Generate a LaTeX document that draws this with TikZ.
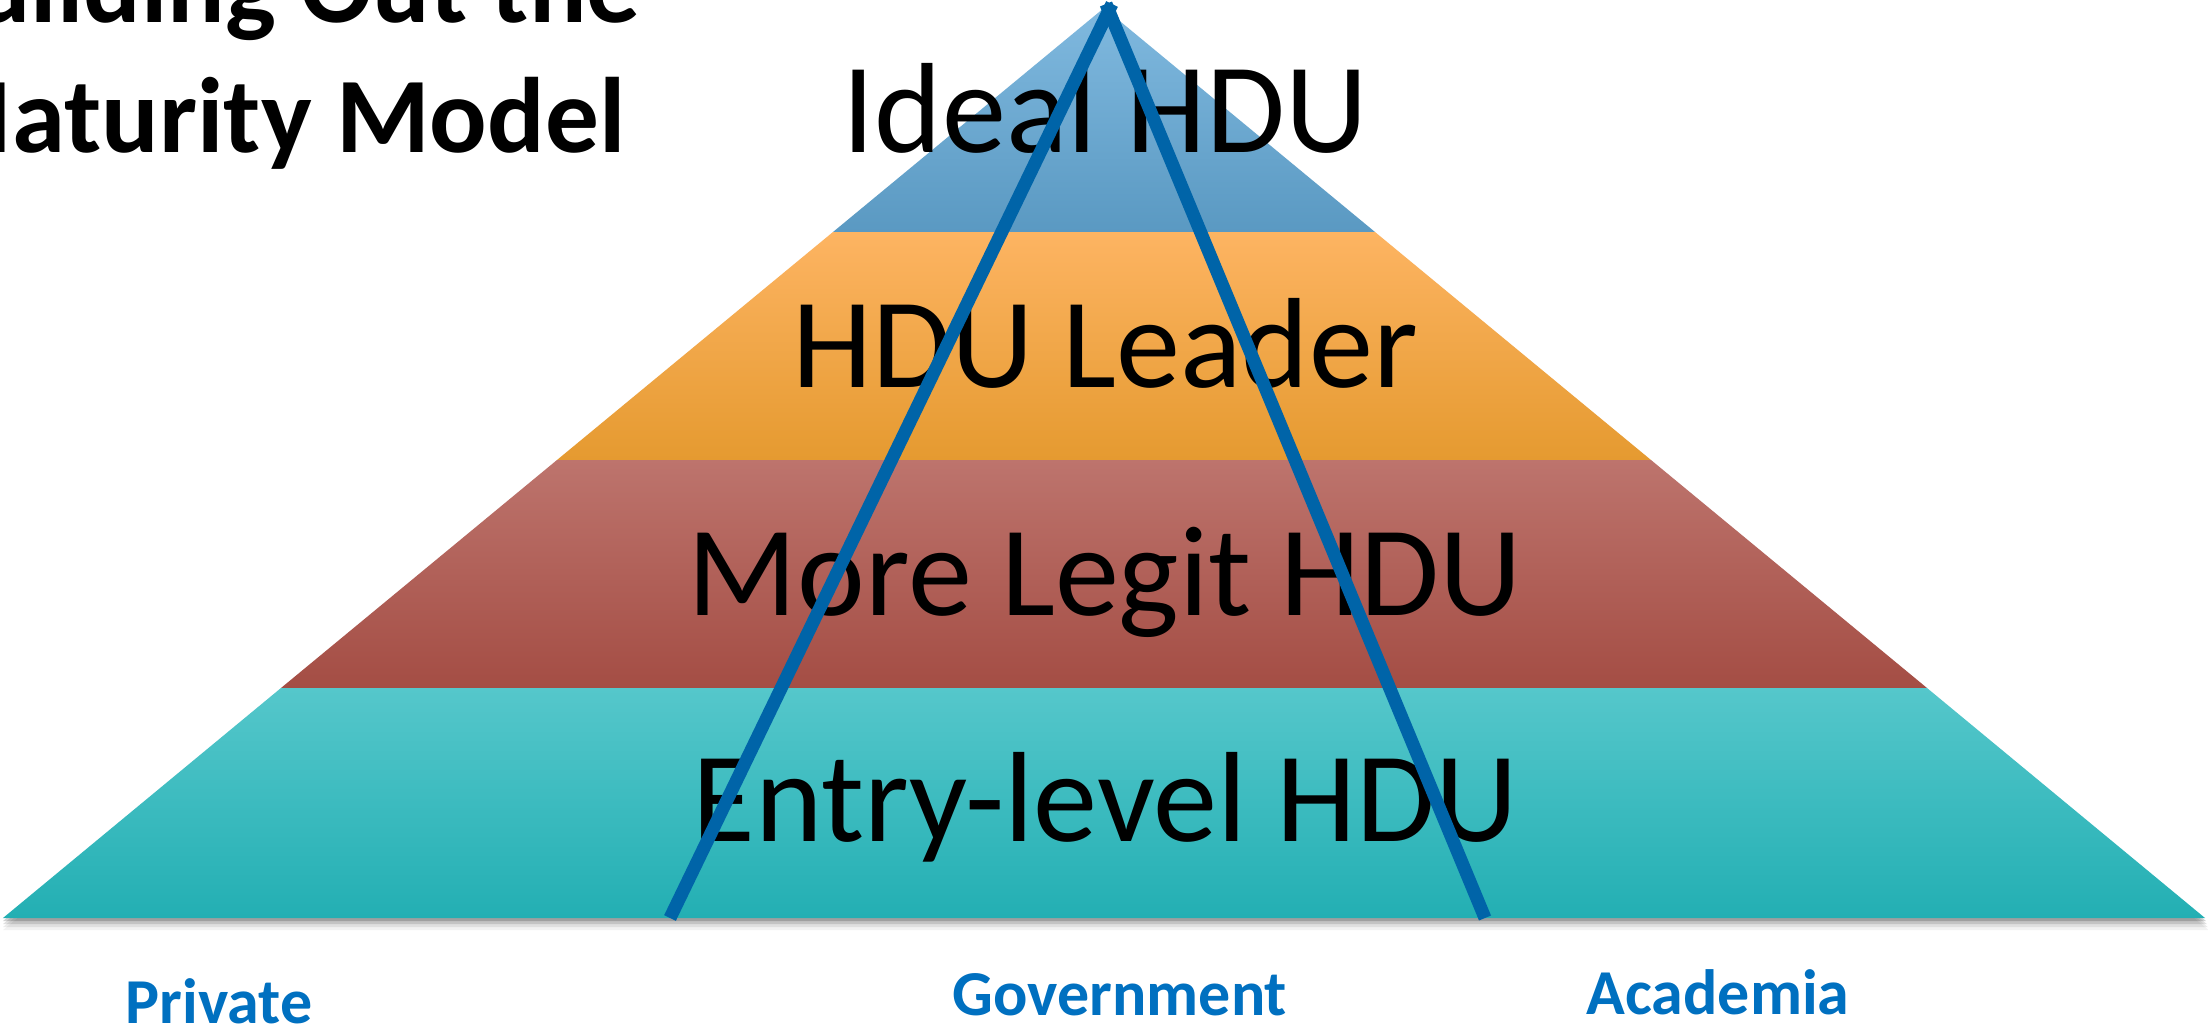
\documentclass[tikz,border=0pt]{standalone}
\usepackage{fontspec}
\setmainfont{Carlito}
\begin{document}
\begin{tikzpicture}[x=0.01cm,y=-0.01cm,
  layertext/.style={font=\fontsize{36.5}{42}\selectfont, text=black, anchor=base, inner sep=0pt},
  titletext/.style={font=\bfseries\fontsize{30.5}{36}\selectfont, text=black, anchor=base east, inner sep=0pt},
  sector/.style={font=\bfseries\fontsize{18.2}{22}\selectfont, text=secblue, anchor=base, inner sep=0pt},
  divider/.style={draw=lineblue, line width=3.7pt}]
\definecolor{secblue}{HTML}{0070C0}
\definecolor{lineblue}{HTML}{0064A8}
\definecolor{bluetop}{HTML}{80B9DF}
\definecolor{bluebot}{HTML}{5A99C2}
\definecolor{orangetop}{HTML}{FDB462}
\definecolor{orangebot}{HTML}{E59A30}
\definecolor{redtop}{HTML}{BD746D}
\definecolor{redbot}{HTML}{A44D44}
\definecolor{tealtop}{HTML}{55C7CB}
\definecolor{tealbot}{HTML}{23AFB3}
\useasboundingbox (0,0) rectangle (2208,1024);
\clip (0,0) rectangle (2208,1024);
\fill[white] (0,0) rectangle (2208,1024);
% pyramid corner points
\coordinate (apex) at (1104,8);
\coordinate (l1) at (833,232);  \coordinate (r1) at (1375,232);
\coordinate (l2) at (557,460);  \coordinate (r2) at (1651,460);
\coordinate (l3) at (281,688);  \coordinate (r3) at (1927,688);
\coordinate (l4) at (3,918);    \coordinate (r4) at (2205,918);
% soft shadow
\foreach \d/\o in {12/0.05,9/0.08,6/0.12,3/0.18}
  \fill[black,opacity=\o] ([shift={(\d*0.3,\d)}]apex) -- ([shift={(\d*0.3,\d)}]r4) -- ([shift={(0,\d)}]l4) -- cycle;
% layers
\shade[top color=bluetop,bottom color=bluebot] (apex) -- (r1) -- (l1) -- cycle;
\shade[top color=orangetop,bottom color=orangebot] (l1) -- (r1) -- (r2) -- (l2) -- cycle;
\shade[top color=redtop,bottom color=redbot] (l2) -- (r2) -- (r3) -- (l3) -- cycle;
\shade[top color=tealtop,bottom color=tealbot] (l3) -- (r3) -- (r4) -- (l4) -- cycle;
% layer labels
\node[layertext] (ideal) at (1105,152) {Ideal HDU};
\node[layertext] (leader) at (1105,387) {HDU Leader};
\node[layertext] (legit) at (1105,615) {More Legit HDU};
\node[layertext] (entry) at (1105,841) {Entry-level HDU};
% dividing lines
\coordinate (gl) at (670,918);
\coordinate (gt1) at (1112,4);
\coordinate (gt2) at (1106,4);
\coordinate (gr) at (1485,918);
\draw[divider] (gl) -- (gt1);
\draw[divider] (gt2) -- (gr);
% title
\node[titletext] (title1) at (641,22) {Building Out the};
\node[titletext] (title2) at (626,152) {Maturity Model};
% sector labels
\node[sector] (private) at (219,1023) {Private};
\node[sector] (gov) at (1120,1015) {Government};
\node[sector] (acad) at (1718,1014) {Academia};
\end{tikzpicture}
\end{document}
